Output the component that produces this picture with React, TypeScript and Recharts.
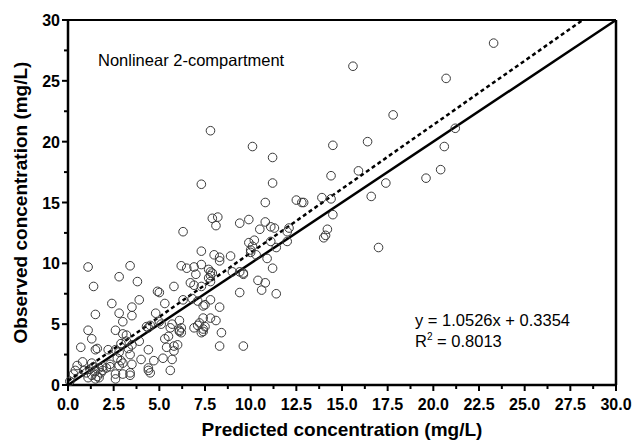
import { ScatterChart, Scatter, XAxis, YAxis, ReferenceLine, Label } from "recharts";

// predicted (x) / observed (y) pairs
const predicted = [
  23.3, 15.6, 20.7, 17.8, 14.5, 16.4, 21.2, 20.6, 14.4, 15.9, 20.4, 17.4, 19.6, 16.6, 13.9, 14.4, 12.9, 14.5, 14.2, 14.0,
  14.1, 17.0, 12.5, 12.8, 12.1, 12.0, 12.0,
  10.1, 11.2, 11.2, 10.8, 9.9, 10.8, 10.5, 11.1, 11.3, 9.4, 9.9, 10.2, 10.0, 10.0, 10.3, 10.1, 11.1, 11.4, 10.9, 9.6,
  11.2, 10.4, 10.8, 10.6, 11.4, 9.4, 7.8, 7.3, 6.3, 7.9, 8.2, 8.1, 7.3, 8.3, 8.3, 8.9, 8.0, 7.7, 7.8, 7.8, 7.7, 7.8,
  7.9, 9.0, 9.4, 9.6, 7.3, 7.5, 7.8, 8.3, 7.4, 7.8, 8.1, 7.4, 7.4, 7.3, 8.4, 8.3, 9.6, 6.2, 6.5, 6.9, 7.0, 7.3, 6.7,
  6.9, 5.8, 4.9, 5.0, 6.3, 6.8, 7.1, 5.3, 7.4, 7.2, 7.1, 7.5, 6.9, 6.1, 6.2, 6.2, 5.7, 5.8, 5.6,
  1.1, 3.4, 2.8, 3.8, 1.4, 2.4, 3.9, 3.5, 1.5, 2.8, 3.0, 3.5, 4.8, 1.1, 1.3, 2.6, 3.0, 3.2, 4.3, 4.4, 4.5, 5.0, 5.1,
  5.6, 5.5, 6.1, 6.1, 5.3, 5.4, 5.8, 6.0, 4.4, 4.0, 4.4, 4.5, 5.2, 5.7, 4.7, 0.7, 1.5, 1.6, 2.2, 2.6, 2.8, 3.3, 3.4,
  2.7, 2.9, 3.0, 2.3, 2.3, 2.8, 2.6, 3.0, 2.6, 3.5, 3.4, 3.4, 2.1, 1.9, 0.5, 0.8, 1.0, 1.2, 1.3, 1.4, 1.5, 1.6, 1.7,
  1.1, 1.8, 1.3, 1.9, 0.9, 0.4, 0.3, 1.5, 1.7, 0.1, 3.9, 2.9, 3.2, 3.5, 4.4,
];

const observed = [
  28.1, 26.2, 25.2, 22.2, 19.7, 20.0, 21.1, 19.6, 17.2, 17.6, 17.7, 16.6, 17.0, 15.5, 15.4, 15.3, 15.0, 14.0, 12.8, 12.1,
  12.3, 11.3, 15.2, 15.0, 12.9, 12.6, 11.8,
  19.6, 18.7, 16.6, 15.0, 13.6, 13.4, 12.8, 13.0, 12.9, 13.3, 11.7, 11.9, 11.1, 10.9, 10.7, 11.4, 11.8, 11.3, 10.4, 9.2,
  9.6, 8.6, 8.4, 7.8, 7.5, 7.6, 20.9, 16.5, 12.6, 13.7, 13.8, 13.1, 11.0, 10.5, 10.2, 10.6, 10.7, 9.5, 9.3, 9.0, 8.8, 8.5,
  9.2, 9.3, 9.3, 9.1, 8.1, 6.6, 7.0, 6.4, 5.5, 5.5, 5.3, 4.6, 4.4, 4.3, 4.3, 3.2, 3.2, 9.8, 9.6, 9.7, 9.1, 9.9, 8.4,
  8.2, 8.1, 7.7, 7.6, 7.0, 7.1, 6.9, 6.7, 6.5, 5.1, 4.9, 4.8, 4.7, 5.3, 4.7, 4.3, 5.0, 2.8, 1.2,
  9.7, 9.8, 8.9, 8.5, 8.1, 6.7, 7.0, 6.4, 5.8, 5.9, 5.2, 5.7, 5.9, 4.5, 3.8, 4.5, 4.2, 4.1, 4.8, 4.7, 4.9, 5.2, 5.0,
  4.7, 4.0, 4.4, 4.5, 3.8, 3.1, 3.2, 3.3, 2.9, 2.1, 1.2, 1.0, 2.2, 2.1, 2.0, 3.1, 2.9, 3.0, 2.9, 2.9, 2.7, 3.0, 2.5,
  2.2, 2.0, 1.8, 1.7, 1.5, 1.6, 0.9, 0.9, 0.5, 1.7, 1.0, 0.8, 1.4, 1.2, 1.6, 1.9, 1.0, 1.3, 0.8, 1.5, 1.1, 0.7, 1.4,
  0.6, 1.0, 1.8, 1.5, 1.2, 1.2, 0.9, 0.5, 0.6, 0.3, 3.6, 3.4, 3.6, 3.3, 1.4,
];

const xTicks = [0, 1.25, 2.5, 3.75, 5, 6.25, 7.5, 8.75, 10, 11.25, 12.5, 13.75, 15, 16.25, 17.5, 18.75, 20, 21.25,
  22.5, 23.75, 25, 26.25, 27.5, 28.75, 30];
const xLabels = [0, 2.5, 5, 7.5, 10, 12.5, 15, 17.5, 20, 22.5, 25, 27.5, 30];
const yTicks = [0, 2.5, 5, 7.5, 10, 12.5, 15, 17.5, 20, 22.5, 25, 27.5, 30];
const yLabels = [0, 5, 10, 15, 20, 25, 30];

const slope = 1.0526;
const intercept = 0.3354;

const font = '"Liberation Sans", Arial, sans-serif';

const points = predicted.map((x, i) => ({ x, y: observed[i] }));

function XTick(props: any) {
  const { x, y, payload } = props;
  const major = xLabels.includes(payload.value);
  return (
    <g>
      <line x1={x} x2={x} y1={y} y2={y + (major ? 6 : 4)} stroke="#000" strokeWidth={2} />
      {major && (
        <text x={x} y={y + 25} textAnchor="middle" fontFamily={font} fontWeight="bold" fontSize={16} fill="#000">
          {payload.value.toFixed(1)}
        </text>
      )}
    </g>
  );
}

function YTick(props: any) {
  const { x, y, payload } = props;
  const major = yLabels.includes(payload.value);
  return (
    <g>
      <line x1={x} x2={x - (major ? 6 : 4)} y1={y} y2={y} stroke="#000" strokeWidth={2} />
      {major && (
        <text x={x - 8} y={y + 6} textAnchor="end" fontFamily={font} fontWeight="bold" fontSize={16} fill="#000">
          {payload.value}
        </text>
      )}
    </g>
  );
}

const circle = (p: any) => (
  <circle cx={p.cx} cy={p.cy} r={4.3} fill="none" stroke="#3a3a3a" strokeWidth={1} />
);

const noteStyle = {
  position: "absolute" as const,
  fontFamily: font,
  fontSize: 16.5,
  color: "#000",
  whiteSpace: "nowrap" as const,
  lineHeight: "18px",
};

export default function App() {
  const xEnd = (30 - intercept) / slope;
  return (
    <div style={{ position: "absolute", left: 0, top: 0, width: 636, height: 442, background: "#fff" }}>
      <ScatterChart width={636} height={442} margin={{ top: 20, right: 20, bottom: 0, left: 0 }}>
        <XAxis
          type="number"
          dataKey="x"
          domain={[0, 30]}
          ticks={xTicks}
          interval={0}
          tick={<XTick />}
          tickLine={false}
          tickSize={0}
          tickMargin={0}
          height={57}
          axisLine={{ stroke: "#000", strokeWidth: 2.5 }}
        >
          <Label
            value="Predicted concentration (mg/L)"
            position="insideBottom"
            offset={6}
            style={{ fontFamily: font, fontWeight: "bold", fontSize: 19, fill: "#000" }}
          />
        </XAxis>
        <YAxis
          type="number"
          dataKey="y"
          domain={[0, 30]}
          ticks={yTicks}
          interval={0}
          tick={<YTick />}
          tickLine={false}
          tickSize={0}
          tickMargin={0}
          width={68}
          axisLine={{ stroke: "#000", strokeWidth: 2.5 }}
        >
          <Label
            value="Observed concentration (mg/L)"
            position="insideLeft"
            angle={-90}
            offset={20}
            style={{ fontFamily: font, fontWeight: "bold", fontSize: 19, fill: "#000", textAnchor: "middle" }}
          />
        </YAxis>
        <ReferenceLine y={30} stroke="#000" strokeWidth={2} />
        <ReferenceLine x={30} stroke="#000" strokeWidth={2.5} />
        <Scatter data={points} shape={circle} isAnimationActive={false} />
        <ReferenceLine
          segment={[{ x: 0, y: 0 }, { x: 30, y: 30 }]}
          stroke="#000"
          strokeWidth={2.5}
        />
        <ReferenceLine
          segment={[{ x: 0, y: intercept }, { x: xEnd, y: 30 }]}
          stroke="#000"
          strokeWidth={2.5}
          strokeDasharray="4 3"
        />
      </ScatterChart>
      <div style={{ ...noteStyle, left: 98, top: 51 }}>Nonlinear 2-compartment</div>
      <div style={{ ...noteStyle, left: 415, top: 311 }}>y = 1.0526x + 0.3354</div>
      <div style={{ ...noteStyle, left: 415, top: 332 }}>
        R<sup style={{ fontSize: 10, verticalAlign: "top", lineHeight: "10px" }}>2</sup> = 0.8013
      </div>
    </div>
  );
}
